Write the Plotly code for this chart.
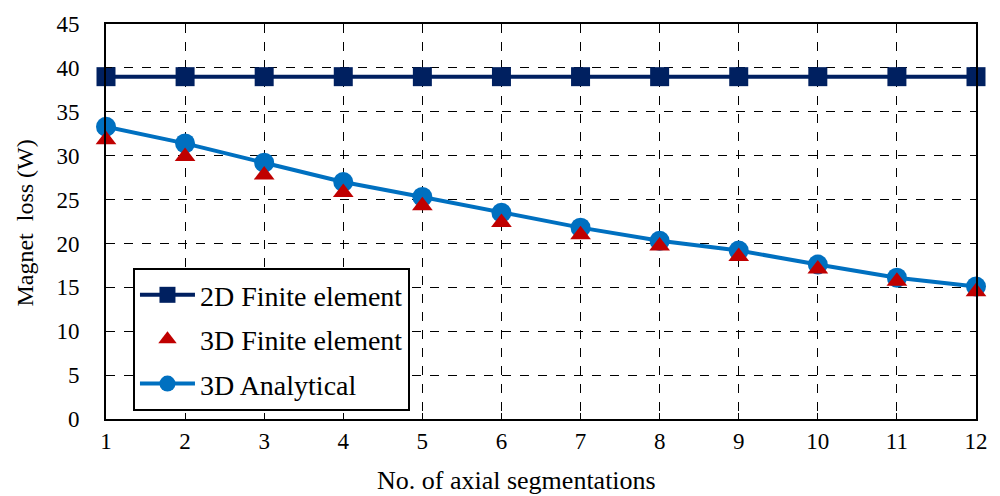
import plotly.graph_objects as go

# Number of axial magnet segments
segments = [1, 2, 3, 4, 5, 6, 7, 8, 9, 10, 11, 12]

# Magnet loss (W) for each method
loss_2d_fe = [39.0, 39.0, 39.0, 39.0, 39.0, 39.0, 39.0, 39.0, 39.0, 39.0, 39.0, 39.0]
loss_3d_fe = [31.8, 29.9, 27.8, 25.8, 24.3, 22.4, 21.0, 19.7, 18.5, 17.1, 15.7, 14.5]
loss_3d_analytical = [33.3, 31.4, 29.2, 27.0, 25.3, 23.5, 21.8, 20.3, 19.2, 17.6, 16.1, 15.1]

y_ticks = [0, 5, 10, 15, 20, 25, 30, 35, 40, 45]

FONT = "Liberation Serif, Times New Roman, serif"
NAVY = "#002060"
BLUE = "#0070C0"
RED = "#C00000"

fig = go.Figure()

fig.add_trace(go.Scatter(
    x=segments, y=loss_2d_fe, name="2D Finite element",
    mode="lines+markers", legendgroup="a", legendrank=1,
    line=dict(color=NAVY, width=4),
    marker=dict(symbol="square", size=19, color=NAVY),
    cliponaxis=False,
))
fig.add_trace(go.Scatter(
    x=segments, y=loss_3d_analytical, name="3D Analytical",
    mode="lines+markers", legendgroup="c", legendrank=3,
    line=dict(color=BLUE, width=4),
    marker=dict(symbol="circle", size=20, color=BLUE),
    cliponaxis=False,
))
fig.add_trace(go.Scatter(
    x=segments, y=loss_3d_fe, name="3D Finite element",
    mode="markers", legendgroup="b", legendrank=2,
    marker=dict(symbol="triangle-up", size=18, color=RED),
    cliponaxis=False,
))

fig.update_xaxes(
    range=[1, 12], tickvals=segments, ticktext=[str(s) for s in segments],
    showline=True, linecolor="black", linewidth=2, mirror=True,
    ticks="inside", ticklen=6, tickcolor="black",
    showgrid=True, gridcolor="black", gridwidth=1, griddash="dash",
    tickfont=dict(family=FONT, size=23, color="black"),
    zeroline=False,
)
fig.update_yaxes(
    range=[0, 45], tickvals=y_ticks,
    showline=True, linecolor="black", linewidth=2, mirror=True,
    ticks="inside", ticklen=6, tickcolor="black",
    showgrid=True, gridcolor="black", gridwidth=1, griddash="dash",
    tickfont=dict(family=FONT, size=23, color="black"),
    ticklabelstandoff=20,
    zeroline=False,
)

fig.add_annotation(
    text="No. of axial segmentations", xref="paper", yref="paper",
    x=0.472, y=-0.155, xanchor="center", yanchor="middle", showarrow=False,
    font=dict(family=FONT, size=26, color="black"),
)
fig.add_annotation(
    text="Magnet\u00a0\u00a0loss (W)", xref="paper", yref="paper",
    x=-0.093, y=0.495, xanchor="center", yanchor="middle", showarrow=False,
    textangle=-90, font=dict(family=FONT, size=24, color="black"),
)

fig.update_layout(
    width=1000, height=496,
    margin=dict(l=106, r=17, t=21, b=77),
    paper_bgcolor="white", plot_bgcolor="white",
    showlegend=True,
    legend=dict(
        x=0.031, y=0.382, xanchor="left", yanchor="top",
        bgcolor="white", bordercolor="black", borderwidth=2,
        font=dict(family=FONT, size=28, color="black"),
        tracegroupgap=5, itemwidth=55,
    ),
)

fig.write_html("out.html")
